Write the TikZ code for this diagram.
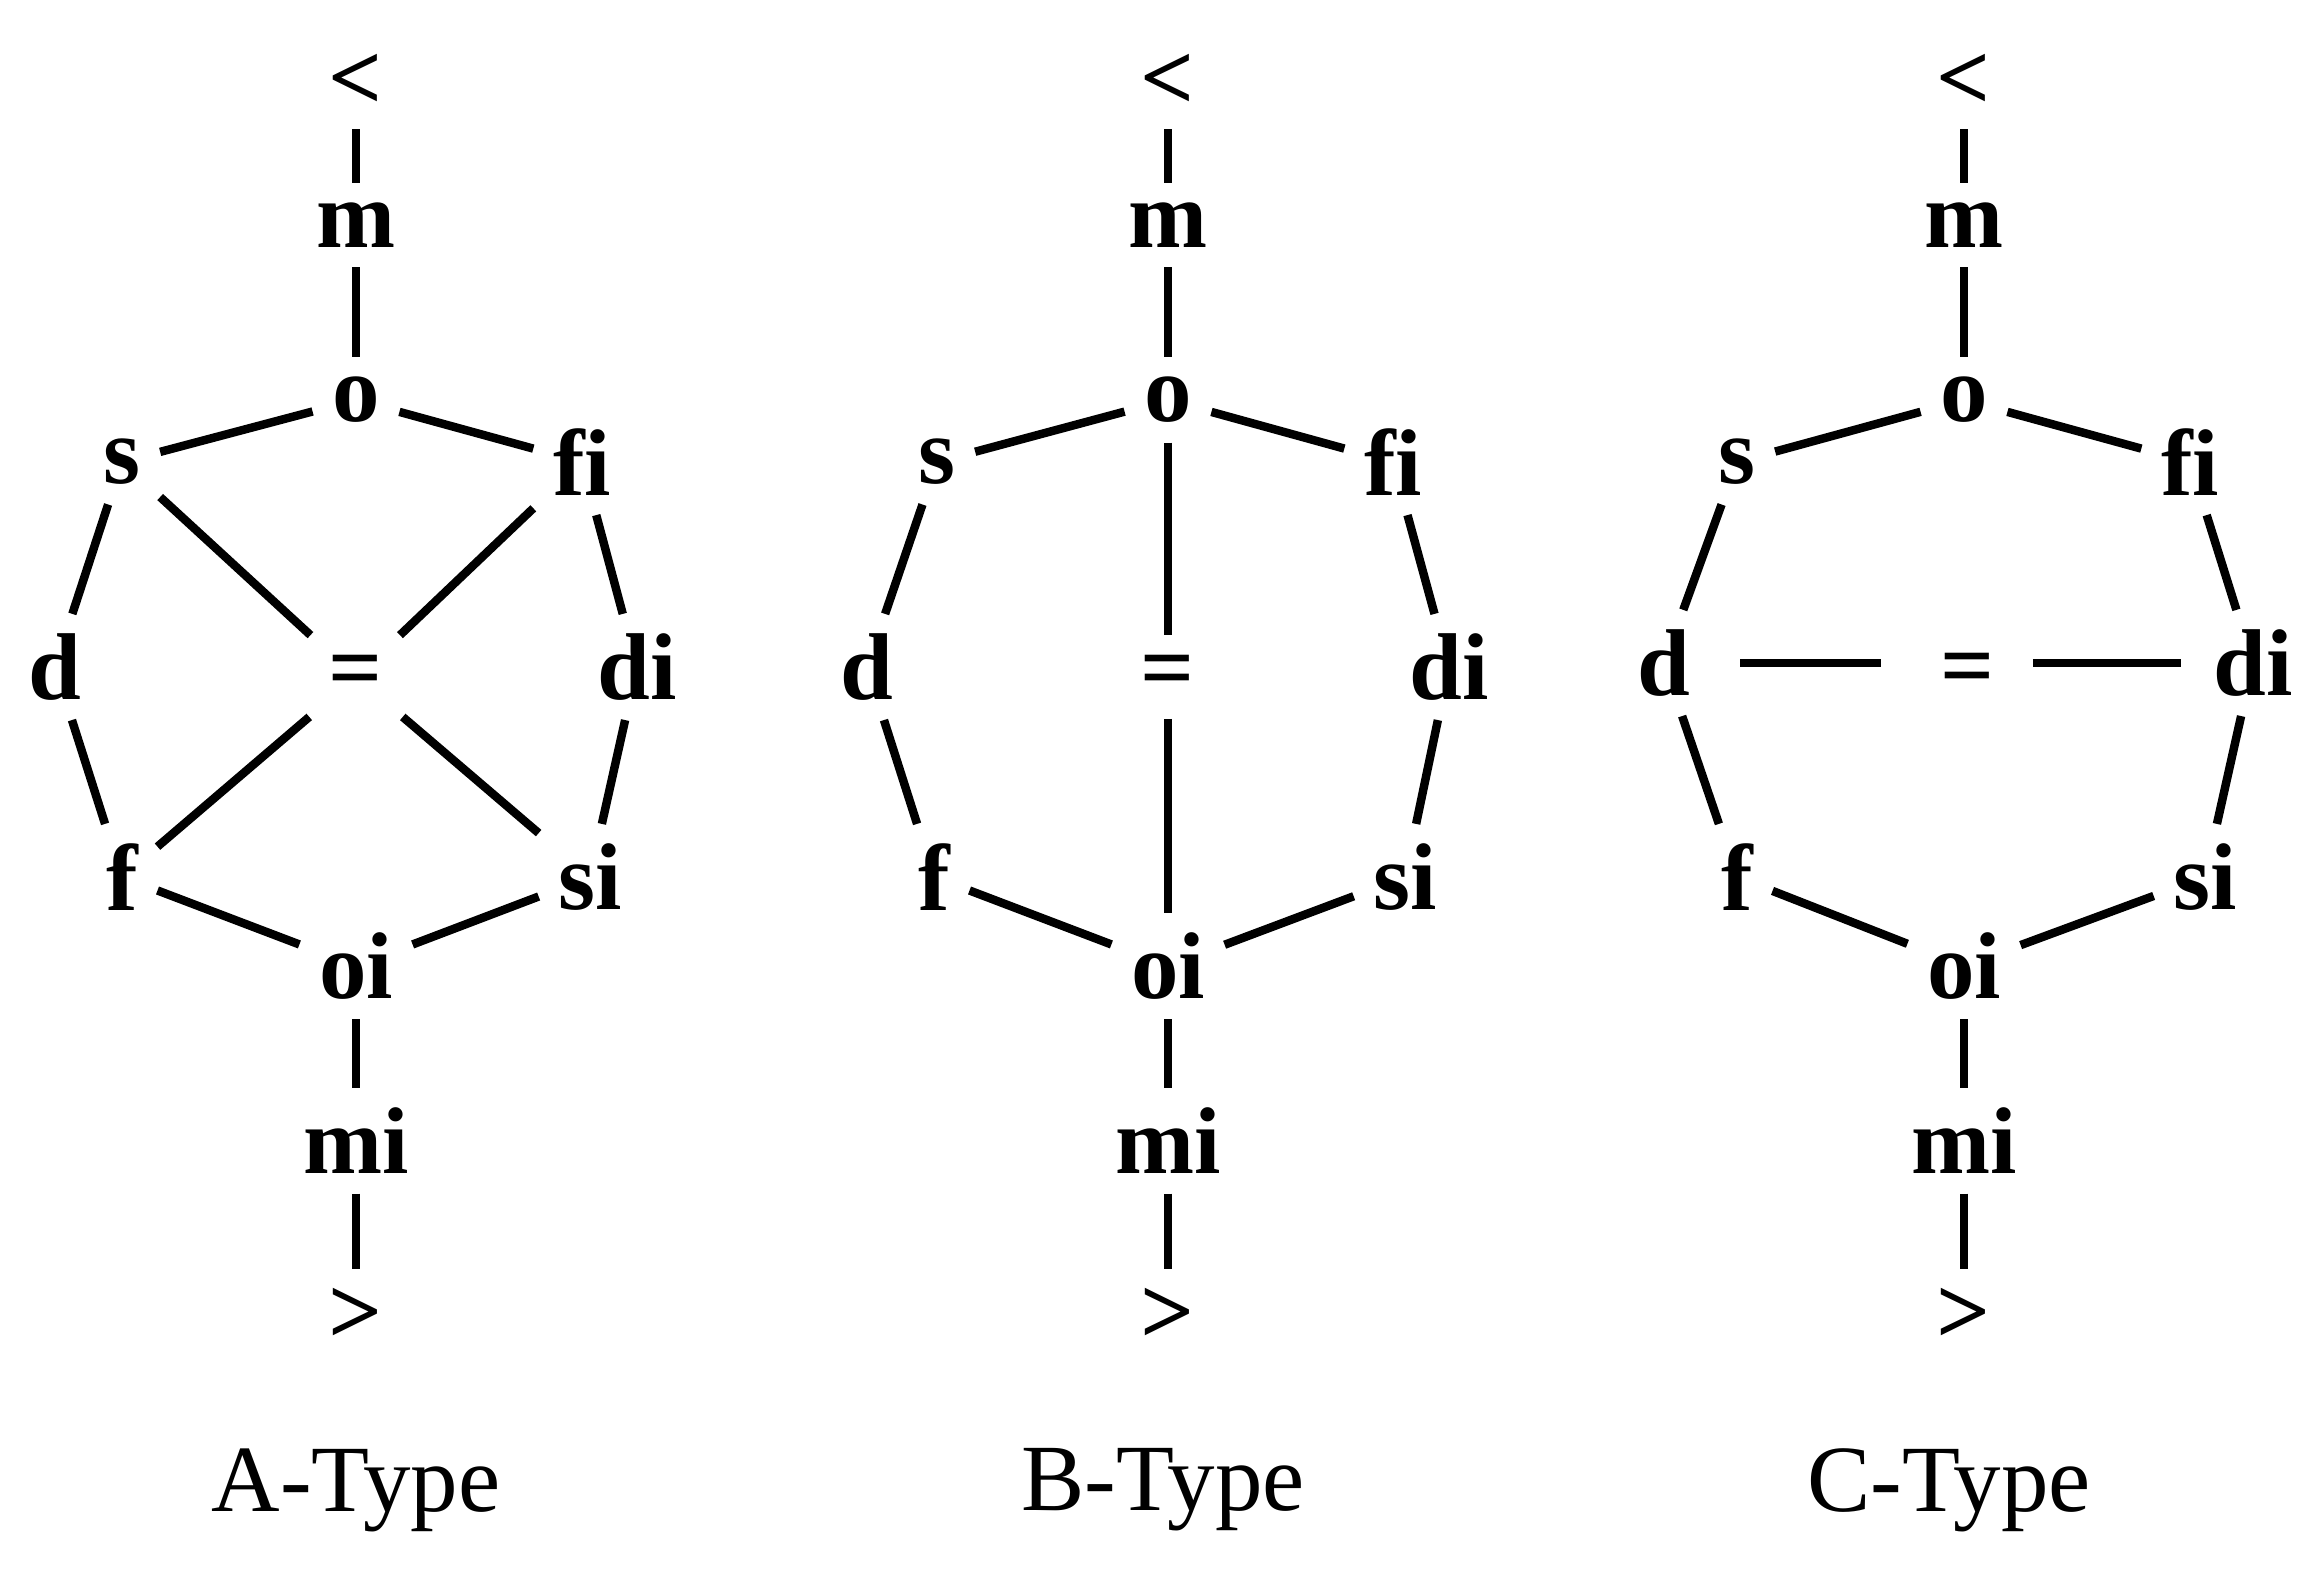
\documentclass[tikz,border=0pt]{standalone}
\usepackage{fontspec}
\setmainfont{Liberation Serif}
\begin{document}
\begin{tikzpicture}[every node/.style={font=\fontsize{27}{32}\selectfont\bfseries,inner sep=0.19cm},
    link/.style={line width=2.4pt},
    caption/.style={font=\fontsize{27}{32}\selectfont}]
    \useasboundingbox (0,0) rectangle (23.24,15.82);
    % A-TYPE : crossing at =
    \begin{scope}[xshift=3.56cm]
      \node (alt) at (0,15.00) {<};
      \node (am) at (0,13.57) {m};
      \node (ao) at (0,11.82) {o};
      \node (as) at (-2.34,11.20) {s};
      \node (afi) at (2.26,11.20) {fi};
      \node (ad) at (-3.01,9.15) {d};
      \node (aeq) at (0,9.05) {=};
      \node (adi) at (2.81,9.15) {di};
      \node (af) at (-2.34,7.05) {f};
      \node (asi) at (2.34,7.05) {si};
      \node (aoi) at (0,6.16) {oi};
      \node (ami) at (0,4.41) {mi};
      \node (agt) at (0,2.66) {>};
      \draw[link] (alt) -- (am);
      \draw[link] (am) -- (ao);
      \draw[link] (ao) -- (as);
      \draw[link] (ao) -- (afi);
      \draw[link] (as) -- (ad);
      \draw[link] (afi) -- (adi);
      \draw[link] (ad) -- (af);
      \draw[link] (adi) -- (asi);
      \draw[link] (af) -- (aoi);
      \draw[link] (asi) -- (aoi);
      \draw[link] (as) -- (aeq);
      \draw[link] (afi) -- (aeq);
      \draw[link] (af) -- (aeq);
      \draw[link] (asi) -- (aeq);
      \draw[link] (aoi) -- (ami);
      \draw[link] (ami) -- (agt);
      \node[caption] (acap) at (0,0.92) {A-Type};
    \end{scope}
    % B-TYPE : o -- = -- oi
    \begin{scope}[xshift=11.68cm]
      \node (blt) at (0,15.00) {<};
      \node (bm) at (0,13.57) {m};
      \node (bo) at (0,11.82) {o};
      \node (bs) at (-2.31,11.20) {s};
      \node (bfi) at (2.25,11.20) {fi};
      \node (bd) at (-3.01,9.15) {d};
      \node (beq) at (0,9.05) {=};
      \node (bdi) at (2.81,9.15) {di};
      \node (bf) at (-2.34,7.05) {f};
      \node (bsi) at (2.37,7.05) {si};
      \node (boi) at (0,6.16) {oi};
      \node (bmi) at (0,4.41) {mi};
      \node (bgt) at (0,2.66) {>};
      \draw[link] (blt) -- (bm);
      \draw[link] (bm) -- (bo);
      \draw[link] (bo) -- (bs);
      \draw[link] (bo) -- (bfi);
      \draw[link] (bs) -- (bd);
      \draw[link] (bfi) -- (bdi);
      \draw[link] (bd) -- (bf);
      \draw[link] (bdi) -- (bsi);
      \draw[link] (bf) -- (boi);
      \draw[link] (bsi) -- (boi);
      \draw[link] (bo) -- (beq);
      \draw[link] (beq) -- (boi);
      \draw[link] (boi) -- (bmi);
      \draw[link] (bmi) -- (bgt);
      \node[caption] (bcap) at (-0.05,0.92) {B-Type};
    \end{scope}
    % C-TYPE : d -- = -- di
    \begin{scope}[xshift=19.64cm]
      \node (clt) at (0,15.00) {<};
      \node (cm) at (0,13.57) {m};
      \node (co) at (0,11.82) {o};
      \node (cs) at (-2.27,11.20) {s};
      \node (cfi) at (2.26,11.20) {fi};
      \node (cd) at (-3.00,9.19) {d};
      \node (ceq) at (0.04,9.07) {=};
      \node (cdi) at (2.89,9.19) {di};
      \node (cf) at (-2.27,7.05) {f};
      \node (csi) at (2.41,7.05) {si};
      \node (coi) at (0,6.16) {oi};
      \node (cmi) at (0,4.41) {mi};
      \node (cgt) at (0,2.66) {>};
      \draw[link] (clt) -- (cm);
      \draw[link] (cm) -- (co);
      \draw[link] (co) -- (cs);
      \draw[link] (co) -- (cfi);
      \draw[link] (cs) -- (cd);
      \draw[link] (cfi) -- (cdi);
      \draw[link] (cd) -- (cf);
      \draw[link] (cdi) -- (csi);
      \draw[link] (cf) -- (coi);
      \draw[link] (csi) -- (coi);
      \draw[link,shorten <=0.3cm,shorten >=0.4cm] (cd.east) -- (cd.east -| ceq.west);
      \draw[link,shorten <=0.18cm,shorten >=0.13cm] (cdi.west -| ceq.east) -- (cdi.west);
      \draw[link] (coi) -- (cmi);
      \draw[link] (cmi) -- (cgt);
      \node[caption] (ccap) at (-0.15,0.92) {C-Type};
    \end{scope}
\end{tikzpicture}
\end{document}
